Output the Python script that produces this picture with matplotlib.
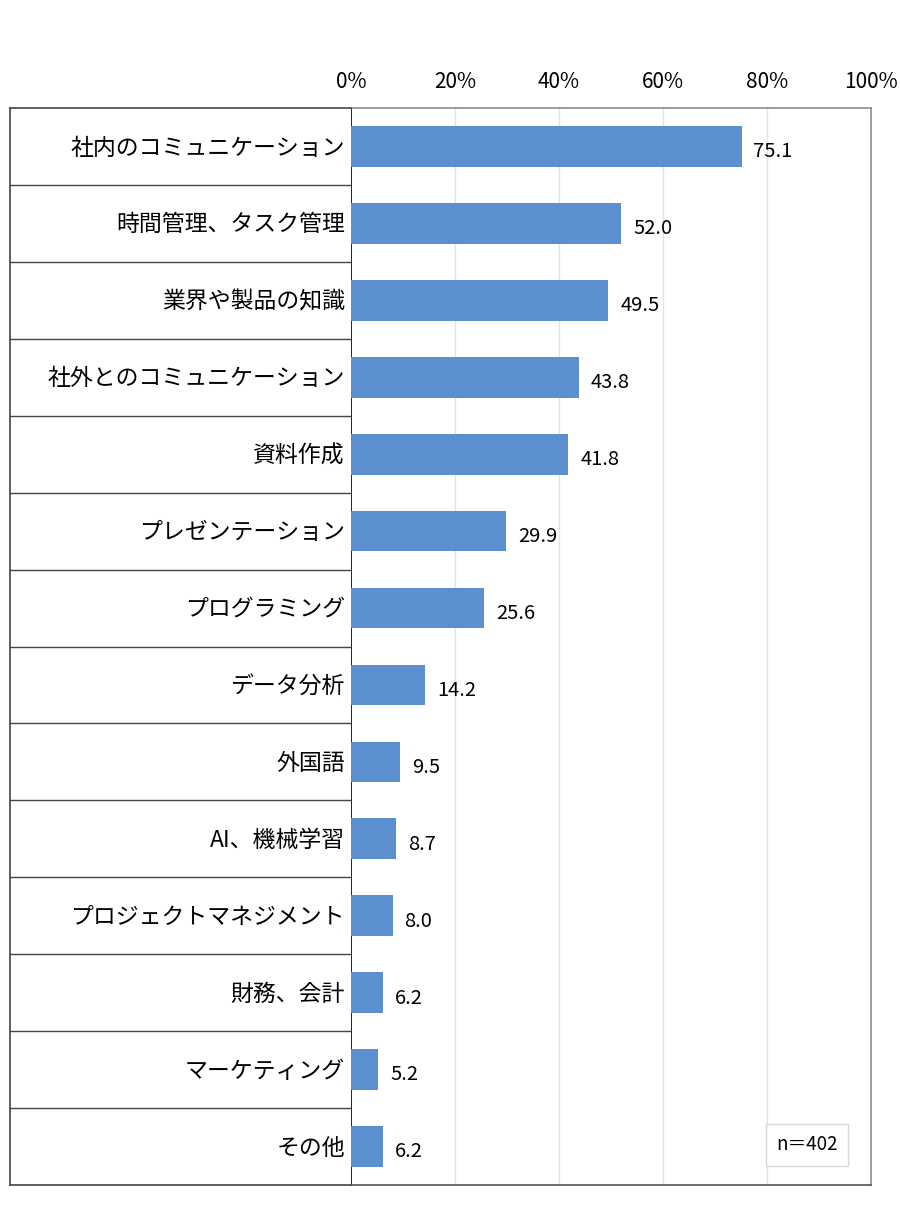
import matplotlib
matplotlib.use("Agg")
import matplotlib.pyplot as plt
import numpy as np

plt.rcParams['font.family'] = ['Noto Sans CJK JP', 'DejaVu Sans']

categories = ["社内のコミュニケーション", "時間管理、タスク管理", "業界や製品の知識",
              "社外とのコミュニケーション", "資料作成", "プレゼンテーション",
              "プログラミング", "データ分析", "外国語", "AI、機械学習",
              "プロジェクトマネジメント", "財務、会計", "マーケティング", "その他"]
values = [75.1, 52.0, 49.5, 43.8, 41.8, 29.9, 25.6, 14.2, 9.5, 8.7, 8.0, 6.2, 5.2, 6.2]
tick_vals = [0, 20, 40, 60, 80, 100]
tick_labels = ["0%", "20%", "40%", "60%", "80%", "100%"]
note = "n＝402"

W, H = 900, 1217
fig = plt.figure(figsize=(W / 100, H / 100), dpi=100)

left_px, right_px, top_px, bot_px = 351, 871, 108, 1185
tbl_left = 10
ax = fig.add_axes([left_px / W, 1 - bot_px / H, (right_px - left_px) / W, (bot_px - top_px) / H])
axt = fig.add_axes([tbl_left / W, 1 - bot_px / H, (left_px - tbl_left) / W, (bot_px - top_px) / H])

n = len(categories)
y = np.arange(n)
ax.set_ylim(n - 0.5, -0.5)
axt.set_ylim(n - 0.5, -0.5)
ax.set_xlim(0, 100)
axt.set_xlim(0, 1)

ax.barh(y, values, height=0.53, color="#5B8FD0", zorder=3)
for yi, v in zip(y, values):
    ax.text(v + 2.3, yi + 0.07, f"{v:.1f}", va="center", ha="left", fontsize=14.5, color="black")

ax.xaxis.tick_top()
ax.set_xticks(tick_vals)
ax.set_xticklabels(tick_labels, fontsize=15)
ax.tick_params(axis='x', length=0, pad=11)
ax.set_yticks([])
for g in tick_vals[1:-1]:
    ax.axvline(g, color="#E3E3E3", lw=1, zorder=1)
for s in ["top", "right"]:
    ax.spines[s].set_color("#8C8C8C")
    ax.spines[s].set_linewidth(1.2)
ax.spines["left"].set_color("black")
ax.spines["left"].set_linewidth(1.2)
ax.spines["bottom"].set_color("#555555")
ax.spines["bottom"].set_linewidth(1.2)

# table
axt.set_xticks([])
axt.set_yticks([])
for s in ["top", "left", "bottom"]:
    axt.spines[s].set_color("#444444")
    axt.spines[s].set_linewidth(1.2)
axt.spines["right"].set_visible(False)
for k in range(1, n):
    axt.axhline(k - 0.5, color="#444444", lw=1.0)
for yi, c in zip(y, categories):
    axt.text(0.982, yi + 0.02, c, ha="right", va="center", fontsize=16.5, color="black")

# note box
ax.text(87.7, 13 - 0.02, note, ha="center", va="center", fontsize=13.5,
        bbox=dict(boxstyle="square,pad=0.55", fc="white", ec="#D9D9D9", lw=1))

fig.savefig("out.png", dpi=100)
